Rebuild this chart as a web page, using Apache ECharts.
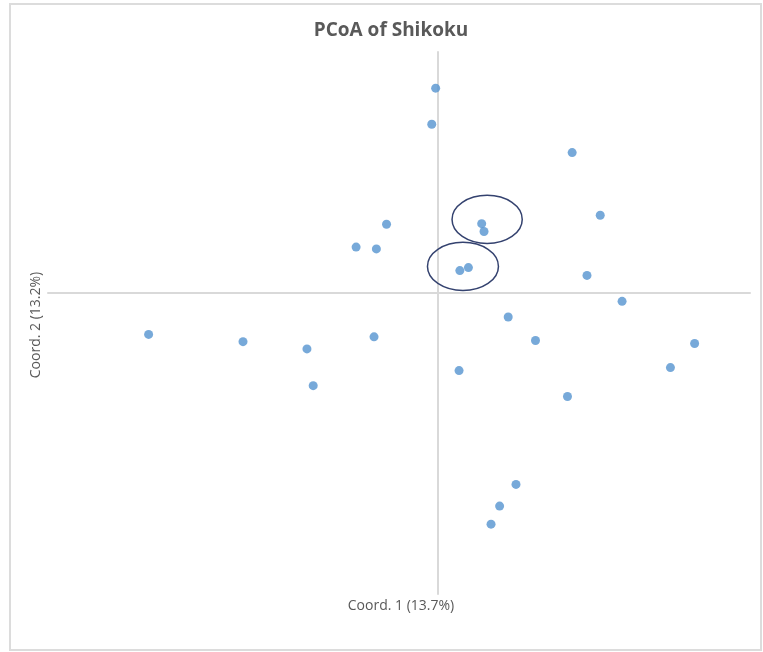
<!DOCTYPE html>
<html>
<head>
<meta charset="utf-8">
<script src="https://cdn.jsdelivr.net/npm/echarts@6/dist/echarts.min.js"></script>
<style>
  html, body { margin: 0; padding: 0; background: #ffffff; }
  #chart { width: 763px; height: 652px; }
</style>
</head>
<body>
<div id="chart"></div>
<script>
// Sample coordinates on PCoA axes (Coord. 1, Coord. 2)
const coord1 = [-0.003, -0.008, 0.172, 0.208, -0.066, -0.105, -0.079, 0.056, 0.059, 0.028,
                0.039, 0.191, 0.236, 0.090, 0.125, 0.329, 0.298, 0.166, -0.371, -0.250,
                -0.168, -0.082, -0.160, 0.027, 0.100, 0.079, 0.068];
const coord2 = [0.340, 0.280, 0.233, 0.129, 0.114, 0.076, 0.073, 0.115, 0.102, 0.037,
                0.042, 0.029, -0.014, -0.040, -0.079, -0.084, -0.124, -0.172, -0.069, -0.081,
                -0.093, -0.073, -0.154, -0.129, -0.318, -0.354, -0.384];
// Highlight ellipses: centre x, centre y, radius x, radius y (data units)
const ellipseCx = [0.063, 0.032];
const ellipseCy = [0.122, 0.044];
const ellipseRx = [0.045, 0.0455];
const ellipseRy = [0.040, 0.040];

const titleText = 'PCoA of Shikoku';
const xName = 'Coord. 1 (13.7%)';
const yName = 'Coord. 2 (13.2%)';

const points = coord1.map((x, i) => [x, coord2[i]]);
const ellipses = ellipseCx.map((x, i) => [x, ellipseCy[i], ellipseRx[i], ellipseRy[i]]);

const chart = echarts.init(document.getElementById('chart'), null, { renderer: 'canvas' });
const axisCommon = {
  type: 'value',
  min: -0.5,
  max: 0.4,
  axisLine: { show: true, onZero: true, lineStyle: { color: '#d9d9d9', width: 2 } },
  axisTick: { show: false },
  axisLabel: { show: false },
  splitLine: { show: false }
};
chart.setOption({
  animation: false,
  backgroundColor: '#ffffff',
  grid: { left: 48, right: 13, top: 52, bottom: 58 },
  xAxis: Object.assign({}, axisCommon),
  yAxis: Object.assign({}, axisCommon),
  graphic: [
    { type: 'rect', shape: { x: 10, y: 4, width: 751, height: 646 },
      style: { fill: 'none', stroke: '#dcdcdc', lineWidth: 2 }, silent: true },
    { type: 'text', x: 391, y: 31,
      style: { text: titleText, fill: '#595959', font: 'bold 19px "Open Sans"',
               textAlign: 'center', textVerticalAlign: 'middle' } },
    { type: 'text', x: 401, y: 606,
      style: { text: xName, fill: '#595959', font: '14px "Open Sans"',
               textAlign: 'center', textVerticalAlign: 'middle' } },
    { type: 'text', x: 36, y: 325, rotation: Math.PI / 2,
      style: { text: yName, fill: '#595959', font: '14px "Open Sans"',
               textAlign: 'center', textVerticalAlign: 'middle' } }
  ],
  series: [
    {
      type: 'scatter',
      data: points,
      symbol: 'circle',
      symbolSize: 9,
      itemStyle: { color: '#5593D0' },
      z: 3
    },
    {
      type: 'custom',
      data: ellipses,
      z: 4,
      renderItem: function (params, api) {
        const c = api.coord([api.value(0), api.value(1)]);
        const s = api.size([api.value(2), api.value(3)]);
        return {
          type: 'ellipse',
          shape: { cx: c[0], cy: c[1], rx: s[0], ry: s[1] },
          style: { fill: 'none', stroke: '#34426F', lineWidth: 1.5 }
        };
      }
    }
  ]
});
</script>
</body>
</html>
